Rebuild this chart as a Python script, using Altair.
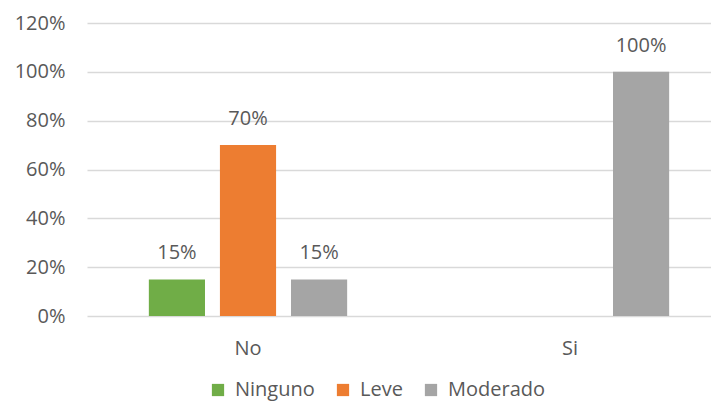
import altair as alt
import pandas as pd

categories = ["No", "Si"]
series = ["Ninguno", "Leve", "Moderado"]
colors = ["#70AD47", "#ED7D31", "#A5A5A5"]
values_no = [0.15, 0.70, 0.15]
values_si = [0.0, 0.0, 1.0]
y_ticks = [0, 0.2, 0.4, 0.6, 0.8, 1.0, 1.2]

rows = []
for cat, vals in zip(categories, [values_no, values_si]):
    for s, v in zip(series, vals):
        rows.append({"Categoria": cat, "Serie": s, "Valor": v})
df = pd.DataFrame(rows)

FONT = "Open Sans"
TXT = "#595959"

base = alt.Chart(df).encode(
    x=alt.X(
        "Categoria:N",
        sort=categories,
        scale=alt.Scale(domain=categories, range=[0, 644], paddingInner=0, paddingOuter=0),
        axis=alt.Axis(title=None, labelAngle=0, ticks=False, domain=False,
                      labelPadding=22, labelFontSize=20, labelColor=TXT, labelFont=FONT),
    ),
    xOffset=alt.XOffset(
        "Serie:N", sort=series,
        scale=alt.Scale(domain=series, paddingInner=0.21, paddingOuter=0.87),
    ),
    y=alt.Y(
        "Valor:Q",
        scale=alt.Scale(domain=[0, 1.2]),
        axis=alt.Axis(title=None, values=y_ticks, format=".0%", ticks=False, domain=False,
                      labelPadding=22, labelFontSize=20, labelColor=TXT, labelFont=FONT,
                      gridColor="#D9D9D9", gridWidth=1.5),
    ),
)

bars = base.mark_bar().encode(
    color=alt.Color(
        "Serie:N",
        sort=series,
        scale=alt.Scale(domain=series, range=colors),
        legend=alt.Legend(title=None, orient="none", direction="horizontal",
                          legendX=121, legendY=357, symbolType="square", symbolSize=150,
                          symbolStrokeWidth=0, labelFontSize=20, labelColor=TXT, labelFont=FONT,
                          columnPadding=18, labelOffset=7),
    )
)

labels = base.transform_filter(alt.datum.Valor > 0).mark_text(
    baseline="middle", dy=-26, fontSize=20, color=TXT, font=FONT
).encode(text=alt.Text("Valor:Q", format=".0%"))

chart = (bars + labels).properties(
    width=624, height=293,
    autosize=alt.AutoSizeParams(type="none"),
    padding={"left": 79, "top": 15, "right": 0, "bottom": 87},
).configure_view(stroke=None)

chart.save("out.html", embed_options={"renderer": "svg", "actions": False})
